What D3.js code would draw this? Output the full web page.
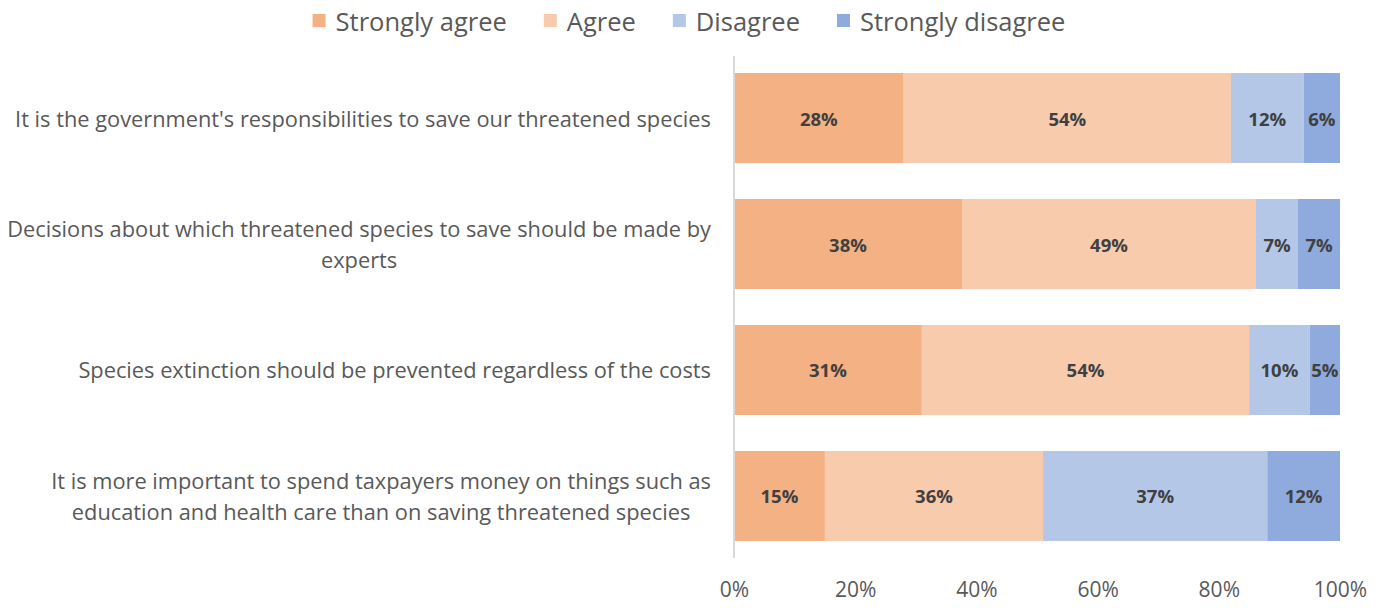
<!DOCTYPE html>
<html>
<head>
<meta charset="utf-8">
<script src="https://cdn.jsdelivr.net/npm/d3@7"></script>
<style>
  html, body { margin: 0; padding: 0; background: #fff; }
  svg { display: block; font-family: "Open Sans", Lato, sans-serif; }
</style>
</head>
<body>
<svg id="chart" width="1387" height="608"></svg>
<script>
// Survey statements (line breaks mark where the label wraps)
const categories = [
  "It is the government's responsibilities to save our threatened species",
  "Decisions about which threatened species to save should be made by\nexperts",
  "Species extinction should be prevented regardless of the costs",
  "It is more important to spend taxpayers money on things such as\neducation and health care than on saving threatened species"
];

const seriesNames = ["Strongly agree", "Agree", "Disagree", "Strongly disagree"];
const seriesColors = ["#F4B183", "#F8CBAD", "#B4C7E7", "#8FAADC"];

// Share of respondents (%) per statement
const stronglyAgree    = [28, 38, 31, 15];
const agree            = [54, 49, 54, 36];
const disagree         = [12, 7, 10, 37];
const stronglyDisagree = [6, 7, 5, 12];

const xTicks = [0, 0.2, 0.4, 0.6, 0.8, 1.0];

const rows = categories.map((c, i) => ({
  category: c,
  "Strongly agree": stronglyAgree[i],
  "Agree": agree[i],
  "Disagree": disagree[i],
  "Strongly disagree": stronglyDisagree[i]
}));

const svg = d3.select("#chart");
const margin = { left: 734, right: 47, top: 55, bottom: 49 };
const W = 1387, H = 608;
const FONT = "'Open Sans', Lato, sans-serif";

const x = d3.scaleLinear().domain([0, 1]).range([margin.left, W - margin.right]);
const y = d3.scaleBand()
  .domain(categories)
  .range([margin.top, H - margin.bottom])
  .paddingInner(0.2857)
  .paddingOuter(0.1429);
const color = d3.scaleOrdinal().domain(seriesNames).range(seriesColors);

const stacked = d3.stack().keys(seriesNames).offset(d3.stackOffsetExpand)(rows);

// Bars
const layers = svg.append("g").selectAll("g")
  .data(stacked).join("g")
  .attr("fill", d => color(d.key));

layers.selectAll("rect")
  .data(d => d.map(v => ({ v, key: d.key })))
  .join("rect")
  .attr("x", d => x(d.v[0]))
  .attr("y", d => y(d.v.data.category))
  .attr("width", d => x(d.v[1]) - x(d.v[0]))
  .attr("height", y.bandwidth());

// Value labels
layers.selectAll("text")
  .data(d => d.map(v => ({ v, key: d.key })))
  .join("text")
  .attr("x", d => (x(d.v[0]) + x(d.v[1])) / 2)
  .attr("y", d => y(d.v.data.category) + y.bandwidth() / 2)
  .attr("text-anchor", "middle")
  .attr("dominant-baseline", "central")
  .attr("font-size", 18.5)
  .attr("font-weight", "bold")
  .attr("fill", "#404040")
  .text(d => d.v.data[d.key] + "%");

// Vertical category axis line
svg.append("line")
  .attr("x1", x(0)).attr("x2", x(0))
  .attr("y1", margin.top + 1).attr("y2", H - margin.bottom - 1)
  .attr("stroke", "#D9D9D9")
  .attr("stroke-width", 2);

// Category labels: right-aligned block, each line centred within it
const catG = svg.append("g");
const lineH = 31;
categories.forEach(c => {
  const lines = c.split("\n");
  const g = catG.append("g");
  const texts = g.selectAll("text").data(lines).join("text")
    .attr("font-size", 21.8)
    .attr("fill", "#595959")
    .attr("text-anchor", "middle")
    .attr("dominant-baseline", "central")
    .text(d => d);
  const maxW = d3.max(texts.nodes(), n => n.getComputedTextLength());
  const cx = x(0) - 23 - maxW / 2;
  const cy = y(c) + y.bandwidth() / 2;
  texts
    .attr("x", cx)
    .attr("y", (d, i) => cy + (i - (lines.length - 1) / 2) * lineH);
});

// Percentage axis
const xAxis = d3.axisBottom(x)
  .tickValues(xTicks)
  .tickFormat(d3.format(".0%"))
  .tickSize(0)
  .tickPadding(0);
const axG = svg.append("g")
  .attr("transform", `translate(0, ${H - margin.bottom + 23})`)
  .call(xAxis);
axG.select(".domain").remove();
axG.selectAll("text")
  .attr("font-size", 21)
  .attr("font-family", FONT)
  .attr("fill", "#595959")
  .attr("dy", "0.71em");

// Legend, centred above the plot
const legend = svg.append("g");
const items = legend.selectAll("g").data(seriesNames).join("g");
items.append("rect")
  .attr("width", 13).attr("height", 13)
  .attr("y", -7)
  .attr("fill", d => color(d));
items.append("text")
  .attr("x", 23)
  .attr("dominant-baseline", "central")
  .attr("font-size", 25.5)
  .attr("fill", "#595959")
  .text(d => d);
let offset = 0;
items.each(function () {
  const g = d3.select(this);
  g.attr("transform", `translate(${offset},0)`);
  offset += 23 + g.select("text").node().getComputedTextLength() + 37;
});
const legendW = offset - 37;
legend.attr("transform", `translate(${689 - legendW / 2}, 21)`);
</script>
</body>
</html>
